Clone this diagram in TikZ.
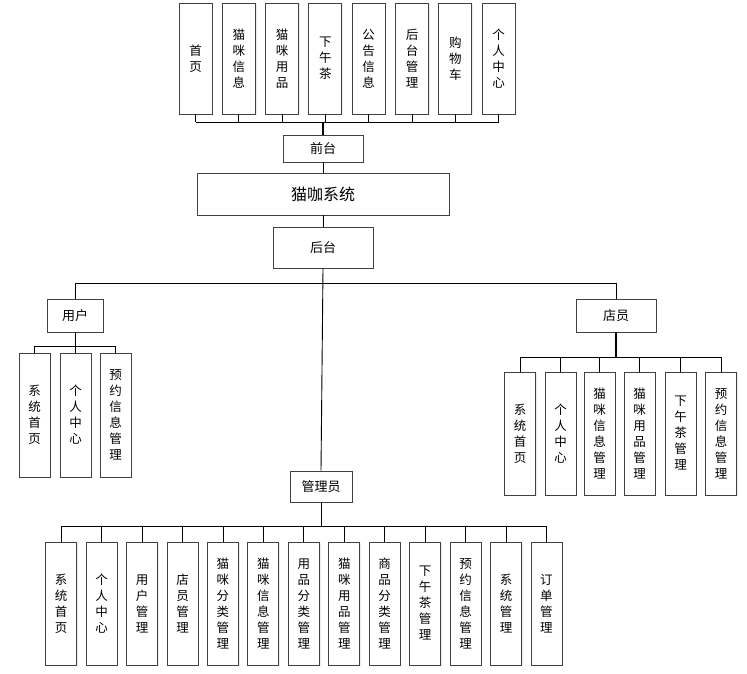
\documentclass[tikz,border=0pt]{standalone}
\usepackage{fontspec}
\setmainfont{Noto Sans CJK SC}
\usetikzlibrary{shadows}
\begin{document}
\begin{tikzpicture}[x=1pt,y=-1pt,
  box/.style={draw=black!75,line width=0.9pt,fill=white,inner sep=0pt,align=center,
    font=\fontsize{12.5}{16}\selectfont,
    drop shadow={opacity=0.15,shadow xshift=1.2pt,shadow yshift=-1.2pt}},
  link/.style={draw=black,line width=0.9pt}]
\useasboundingbox[fill=white] (0,0) rectangle (747,674);
% top row
\foreach \i/\t in {0/{首\\页},1/{猫\\咪\\信\\息},2/{猫\\咪\\用\\品},3/{下\\午\\茶},4/{公\\告\\信\\息},5/{后\\台\\管\\理},6/{购\\物\\车},7/{个\\人\\中\\心}}{
  \node[box,minimum width=33,minimum height=111] (t\i) at ({195.5+43.3*\i},58.5) {\t};
}
\node[box,minimum width=80,minimum height=27,font=\fontsize{13}{16}\selectfont] (qiantai) at (323,148.5) {前台};
\node[box,minimum width=252,minimum height=42,font=\fontsize{16}{18}\selectfont] (xitong) at (323,194) {猫咖系统};
\node[box,minimum width=100,minimum height=41,font=\fontsize{13}{16}\selectfont] (houtai) at (323,247.5) {后台};
\coordinate (busT) at (323,122);
\foreach \i in {0,...,7}{\draw[link] (t\i.south) -- (t\i.south |- busT);}
\draw[link] (t0.south |- busT) -- (t7.south |- busT);
\draw[link,line width=1.6pt] (busT) -- (qiantai.north);
\draw[link] (qiantai.south) -- (xitong.north);
\draw[link] (xitong.south) -- (houtai.north);
% roles
\node[box,minimum width=56,minimum height=33,font=\fontsize{13}{16}\selectfont] (yonghu) at (75,315.5) {用户};
\node[box,minimum width=80,minimum height=33,font=\fontsize{13}{16}\selectfont] (dianyuan) at (616,315.5) {店员};
\node[box,minimum width=62,minimum height=31,font=\fontsize{13}{16}\selectfont] (guanli) at (321,486.5) {管理员};
\coordinate (busB) at (323,283);
\draw[link] (houtai.south) -- (guanli.north);
\draw[link] (yonghu.north |- busB) -- (dianyuan.north |- busB);
\draw[link] (yonghu.north) -- (yonghu.north |- busB);
\draw[link] (dianyuan.north) -- (dianyuan.north |- busB);
% user children
\foreach \i/\x/\t in {0/34.5/{系\\统\\首\\页},1/75.5/{个\\人\\中\\心},2/115.5/{预\\约\\信\\息\\管\\理}}{
  \node[box,minimum width=31,minimum height=124] (u\i) at (\x,415) {\t};
}
\coordinate (busU) at (75,346);
\draw[link] (yonghu.south) -- (busU);
\foreach \i in {0,1,2}{\draw[link] (u\i.north) -- (u\i.north |- busU);}
\draw[link] (u0.north |- busU) -- (u2.north |- busU);
% staff children
\foreach \i/\x/\t in {0/520/{系\\统\\首\\页},1/560.5/{个\\人\\中\\心},2/599.5/{猫\\咪\\信\\息\\管\\理},3/639.5/{猫\\咪\\用\\品\\管\\理},4/680.5/{下\\午\\茶\\管\\理},5/721/{预\\约\\信\\息\\管\\理}}{
  \node[box,minimum width=31,minimum height=123] (d\i) at (\x,433.5) {\t};
}
\coordinate (busD) at (616,357);
\draw[link,line width=1.6pt] (dianyuan.south) -- (busD);
\foreach \i in {0,...,5}{\draw[link] (d\i.north) -- (d\i.north |- busD);}
\draw[link] (d0.north |- busD) -- (d5.north |- busD);
% admin children
\foreach \i/\t in {0/{系\\统\\首\\页},1/{个\\人\\中\\心},2/{用\\户\\管\\理},3/{店\\员\\管\\理},4/{猫\\咪\\分\\类\\管\\理},5/{猫\\咪\\信\\息\\管\\理},6/{用\\品\\分\\类\\管\\理},7/{猫\\咪\\用\\品\\管\\理},8/{商\\品\\分\\类\\管\\理},9/{下\\午\\茶\\管\\理},10/{预\\约\\信\\息\\管\\理},11/{系\\统\\管\\理},12/{订\\单\\管\\理}}{
  \node[box,minimum width=31,minimum height=123] (a\i) at ({61.2+40.44*\i},603.5) {\t};
}
\coordinate (busA) at (321,526);
\draw[link] (guanli.south) -- (busA);
\foreach \i in {0,...,12}{\draw[link] (a\i.north) -- (a\i.north |- busA);}
\draw[link] (a0.north |- busA) -- (a12.north |- busA);
\end{tikzpicture}
\end{document}
